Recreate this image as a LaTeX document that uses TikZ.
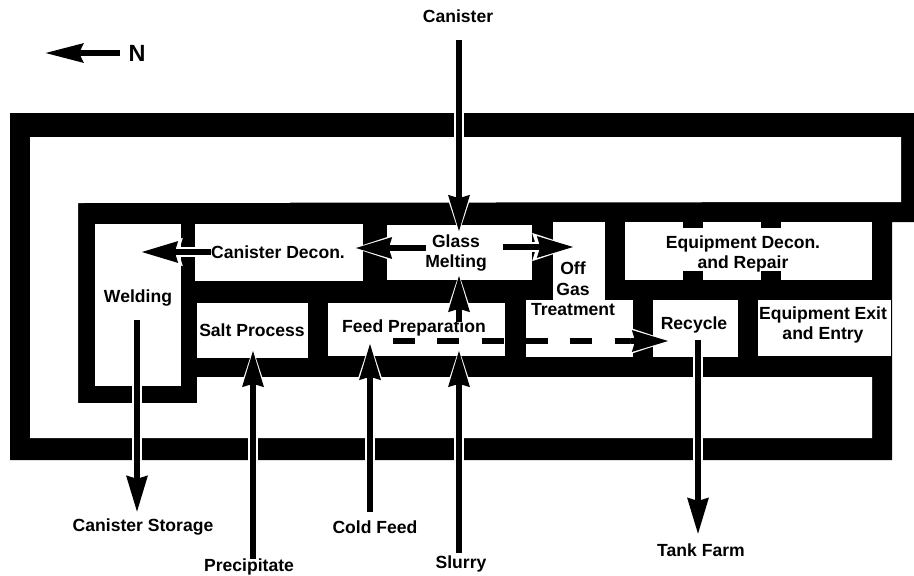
\documentclass[tikz,border=0pt]{standalone}
\usepackage{fontspec}
\setmainfont{Liberation Sans}
\usetikzlibrary{arrows.meta,positioning}
\tikzset{
  lbl/.style={font=\fontsize{15}{17.5}\selectfont\bfseries,align=center,inner sep=0pt},
  room/.style={fill=white,draw=none},
  flowtip/.style={-{Stealth[length=1.08cm,width=0.60cm,inset=0.07cm]}},
  halotip/.style={-{Stealth[length=1.28cm,width=0.74cm,inset=0.07cm,color=white]}},
  flow/.style={line width=0.20cm,flowtip,preaction={draw=white,line width=0.30cm,halotip,shorten >=-0.09cm}},
  dashflow/.style={line width=0.20cm,dash pattern=on 0.66cm off 0.67cm},
}
\begin{document}
\begin{tikzpicture}[x=0.03cm,y=-0.03cm]
\useasboundingbox (0,0) rectangle (914,575);

% ===== walls and corridor =====
\fill[black] (10,113) -- (914,113) -- (914,222) -- (892,222) -- (892,460) -- (10,460) -- cycle;
\fill[room] (30,137) -- (901,137) -- (901,202) -- (78,203) -- (78,403) -- (197,403) -- (197,377)
  -- (872,377) -- (872,438) -- (30,438) -- cycle;

% ===== rooms =====
\fill[room] (95,224) rectangle (181,386);
\fill[room] (195,224) rectangle (363,281);
\fill[room] (387,225) rectangle (532,280);
\fill[room] (553,222) rectangle (605,300);
\fill[room] (526,300) rectangle (633,357);
\fill[room] (625,222) rectangle (872,280);
\fill[room] (197,303) rectangle (308,358);
\fill[room] (328,303) rectangle (505,356);
\fill[room] (653,300) rectangle (738,357);
\fill[room] (758,300) rectangle (891,356);
\foreach \x in {683,761} {
  \fill[black] (\x,222) rectangle ++(20,6);
  \fill[black] (\x,271) rectangle ++(20,9);
}

% ===== labels =====
\node[lbl] (canister) at (458,16) {Canister};
\node[lbl] (storage) at (143,527) {Canister Storage};
\node[lbl] (precipitate) at (249,567) {Precipitate};
\node[lbl] (coldfeed) at (375,527) {Cold Feed};
\node[lbl] (slurry) at (461,564) {Slurry};
\node[lbl] (tankfarm) at (701,550) {Tank Farm};
\node[lbl] (welding) at (138,298) {Welding};
\node[lbl] (decon) at (278,252) {Canister Decon.};
\node[lbl] (glass) at (456,253) {Glass\\Melting};
\node[lbl] (offgas) at (573,289) {Off\\Gas\\Treatment};
\node[lbl] (equipdecon) at (743,254) {Equipment Decon.\\and Repair};
\node[lbl] (salt) at (252,330) {Salt Process};
\node[lbl] (feed) at (414,328) {Feed Preparation};
\node[lbl] (recycle) at (694,325) {Recycle};
\node[lbl] (exit) at (823,325) {Equipment Exit\\and Entry};
\node[font=\fontsize{20}{24}\selectfont\bfseries,inner sep=0pt] (north) at (137,53) {N};

% ===== arrow ends =====
\coordinate (northtip) at (45,53);
\coordinate (glasstop) at (459,232);
\coordinate (weldtip) at (141,252);
\coordinate (decontip) at (355,248);
\coordinate (gastip) at (574,247);
\coordinate (gasout) at (503,247);
\coordinate (meltin) at (459,275);
\coordinate (feedout) at (459,322);
\coordinate (glassout) at (426,248);
\coordinate (saltin) at (253,350);
\coordinate (feedin) at (370,343);
\coordinate (slurryin) at (459,350);
\coordinate (storagetop) at (137,320);
\coordinate (tanktop) at (698,340);
\coordinate (dashstart) at (393,341);
\coordinate (dashend) at (633,341);
\coordinate (recyclein) at (669,341);

% ===== arrows =====
\draw[flow] ([yshift=-0.53cm]canister.south -| glasstop) -- (glasstop);
\draw[flow] (decon.west) -- (weldtip);
\draw[flow] (glassout) -- (decontip);
\draw[flow] (gasout) -- (gastip);
\draw[flow] (feedout) -- (meltin);
\draw[flow] (precipitate.north -| saltin) -- (saltin);
\draw[flow] ([yshift=0.26cm]coldfeed.north -| feedin) -- (feedin);
\draw[flow] ([yshift=0.09cm]slurry.north -| slurryin) -- (slurryin);
\draw[flow] (storagetop) -- ([yshift=0.18cm]storage.north -| storagetop);
\draw[flow] (tanktop) -- ([yshift=0.26cm]tankfarm.north -| tanktop);
\draw[dashflow] (dashstart) -- (dashend);
\draw[flow] ([xshift=-0.05cm]dashend) -- (recyclein);
\draw[line width=0.17cm,-{Stealth[length=1.14cm,width=0.56cm,inset=0.12cm]}] ([xshift=-0.24cm]north.west) -- (northtip);
\end{tikzpicture}
\end{document}
